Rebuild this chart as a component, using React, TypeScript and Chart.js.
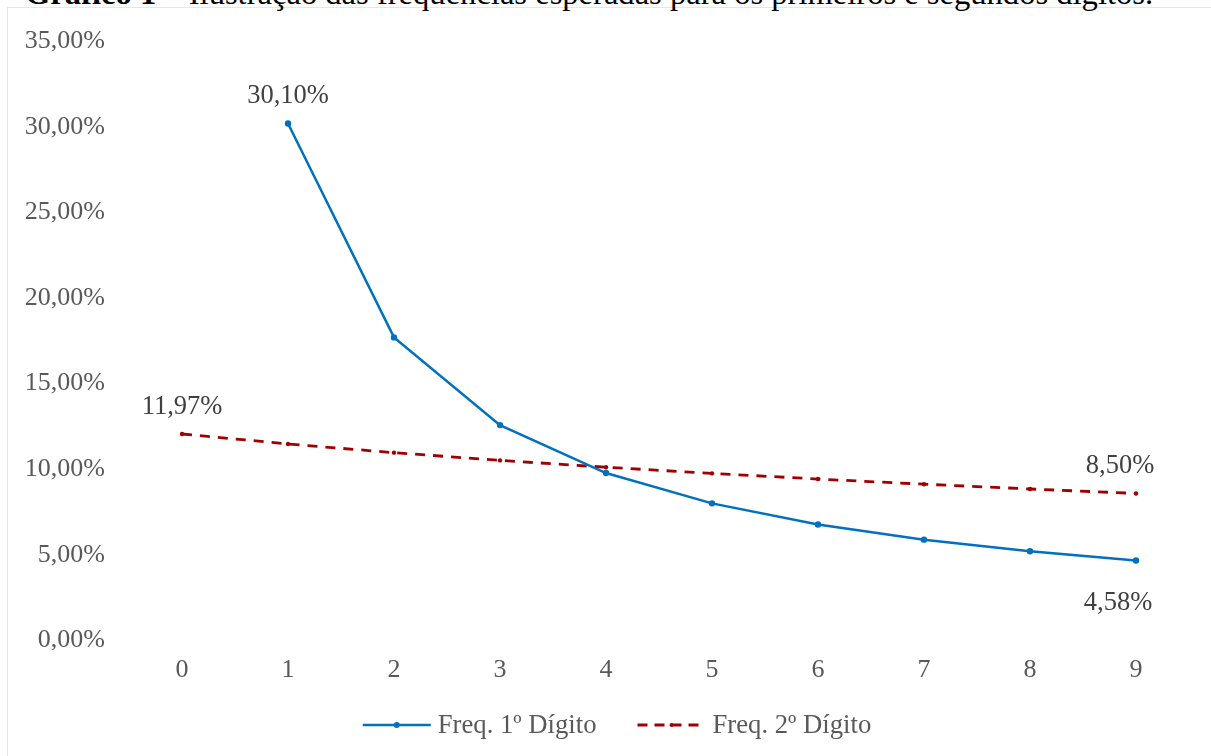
import React, { useEffect, useRef } from "react";
import { Chart, registerables } from "chart.js";

Chart.register(...registerables);

const categories = ["0", "1", "2", "3", "4", "5", "6", "7", "8", "9"];
const firstDigit: (number | null)[] = [null, 30.1, 17.61, 12.49, 9.69, 7.92, 6.69, 5.8, 5.12, 4.58];
const secondDigit: number[] = [11.97, 11.39, 10.88, 10.43, 10.03, 9.67, 9.34, 9.04, 8.76, 8.5];
const yTicks = [0, 5, 10, 15, 20, 25, 30, 35];
const seriesNames = ["Freq. 1º Dígito", "Freq. 2º Dígito"];
const titleBold = "Gráfico 1";
const titleRest = " – Ilustração das frequências esperadas para os primeiros e segundos dígitos.";

const FONT = "'Liberation Serif', 'Times New Roman', serif";
const BLUE = "#0070C0";
const RED = "#A00000";

const fmt = (v: number) => v.toFixed(2).replace(".", ",") + "%";

// labels: [datasetIndex, pointIndex, dx, dy]
const dataLabels: [number, number, number, number][] = [
  [0, 1, 0, -27],
  [0, 9, -18, 42],
  [1, 0, 0, -27],
  [1, 9, -16, -27],
];

const overlayPlugin = {
  id: "overlay",
  afterDatasetsDraw(chart: any) {
    const ctx = chart.ctx;
    ctx.save();
    ctx.font = `26.5px ${FONT}`;
    ctx.fillStyle = "#404040";
    ctx.textAlign = "center";
    ctx.textBaseline = "middle";
    for (const [ds, idx, dx, dy] of dataLabels) {
      const el = chart.getDatasetMeta(ds).data[idx];
      const v = chart.data.datasets[ds].data[idx];
      if (!el || v == null) continue;
      ctx.fillText(fmt(v), el.x + dx, el.y + dy);
    }
    // legend
    ctx.font = `26.7px ${FONT}`;
    const lineLen = 68;
    const textGap = 7;
    const itemGap = 41;
    const widths = seriesNames.map((n) => lineLen + textGap + ctx.measureText(n).width);
    const total = widths[0] + itemGap + widths[1];
    let x = 617 - total / 2;
    const y = 725;
    const colors = [BLUE, RED];
    seriesNames.forEach((name, i) => {
      ctx.strokeStyle = colors[i];
      ctx.lineWidth = i === 1 ? 2.8 : 2.5;
      ctx.setLineDash(i === 1 ? [10, 7] : []);
      ctx.beginPath();
      ctx.moveTo(x, y);
      ctx.lineTo(x + lineLen, y);
      ctx.stroke();
      ctx.setLineDash([]);
      ctx.fillStyle = colors[i];
      ctx.beginPath();
      ctx.arc(x + lineLen / 2, y, i === 1 ? 2 : 3, 0, Math.PI * 2);
      ctx.fill();
      ctx.fillStyle = "#595959";
      ctx.textAlign = "left";
      ctx.fillText(name, x + lineLen + textGap, y + 1);
      x += widths[i] + itemGap;
    });
    ctx.restore();
  },
};

export default function App() {
  const ref = useRef<HTMLCanvasElement>(null);
  useEffect(() => {
    document.body.style.margin = "0";
    const chart = new Chart(ref.current as HTMLCanvasElement, {
      type: "line",
      data: {
        labels: categories,
        datasets: [
          {
            label: seriesNames[0],
            data: firstDigit,
            borderColor: BLUE,
            backgroundColor: BLUE,
            borderWidth: 2.5,
            pointRadius: 3.2,
            pointBorderWidth: 0,
            tension: 0,
            spanGaps: false,
          },
          {
            label: seriesNames[1],
            data: secondDigit,
            borderColor: RED,
            backgroundColor: RED,
            borderWidth: 2.8,
            borderDash: [10, 8],
            pointRadius: 2.2,
            pointBorderWidth: 0,
            tension: 0,
          },
        ],
      },
      options: {
        animation: false,
        responsive: false,
        maintainAspectRatio: false,
        layout: { padding: { top: 30, right: 22, bottom: 0, left: 0 } },
        plugins: {
          legend: { display: false },
          tooltip: { enabled: false },
          title: { display: false },
        },
        scales: {
          x: {
            type: "category",
            offset: true,
            grid: { display: false, drawTicks: false },
            border: { display: false },
            ticks: {
              color: "#595959",
              font: { family: FONT, size: 26 },
              padding: 16,
              maxRotation: 0,
            },
            afterFit: (s: any) => {
              s.height = 117;
            },
          },
          y: {
            min: 0,
            max: 35,
            grid: { display: false, drawTicks: false },
            border: { display: false },
            afterBuildTicks: (s: any) => {
              s.ticks = yTicks.map((v) => ({ value: v }));
            },
            ticks: {
              color: "#595959",
              font: { family: FONT, size: 26 },
              padding: 24,
              labelOffset: 1.5,
              callback: (v: any) => fmt(Number(v)),
            },
            afterFit: (s: any) => {
              s.width = 129;
            },
          },
        },
      },
      plugins: [overlayPlugin],
    });
    return () => chart.destroy();
  }, []);

  return (
    <div style={{ position: "fixed", left: 0, top: 0, width: 1211, height: 756, overflow: "hidden", background: "#fff" }}>
      <div
        style={{
          position: "absolute",
          left: 7,
          top: 7,
          width: 1230,
          height: 800,
          border: "1.5px solid #E6E6E6",
          boxSizing: "border-box",
        }}
      />
      <div
        style={{
          position: "absolute",
          left: 25,
          top: -23,
          whiteSpace: "nowrap",
          fontFamily: FONT,
          fontSize: 32.6,
          lineHeight: "32px",
          color: "#000",
        }}
      >
        <b>{titleBold}</b>
        {titleRest}
      </div>
      <canvas ref={ref} width={1211} height={756} style={{ position: "absolute", left: 0, top: 0 }} />
    </div>
  );
}
